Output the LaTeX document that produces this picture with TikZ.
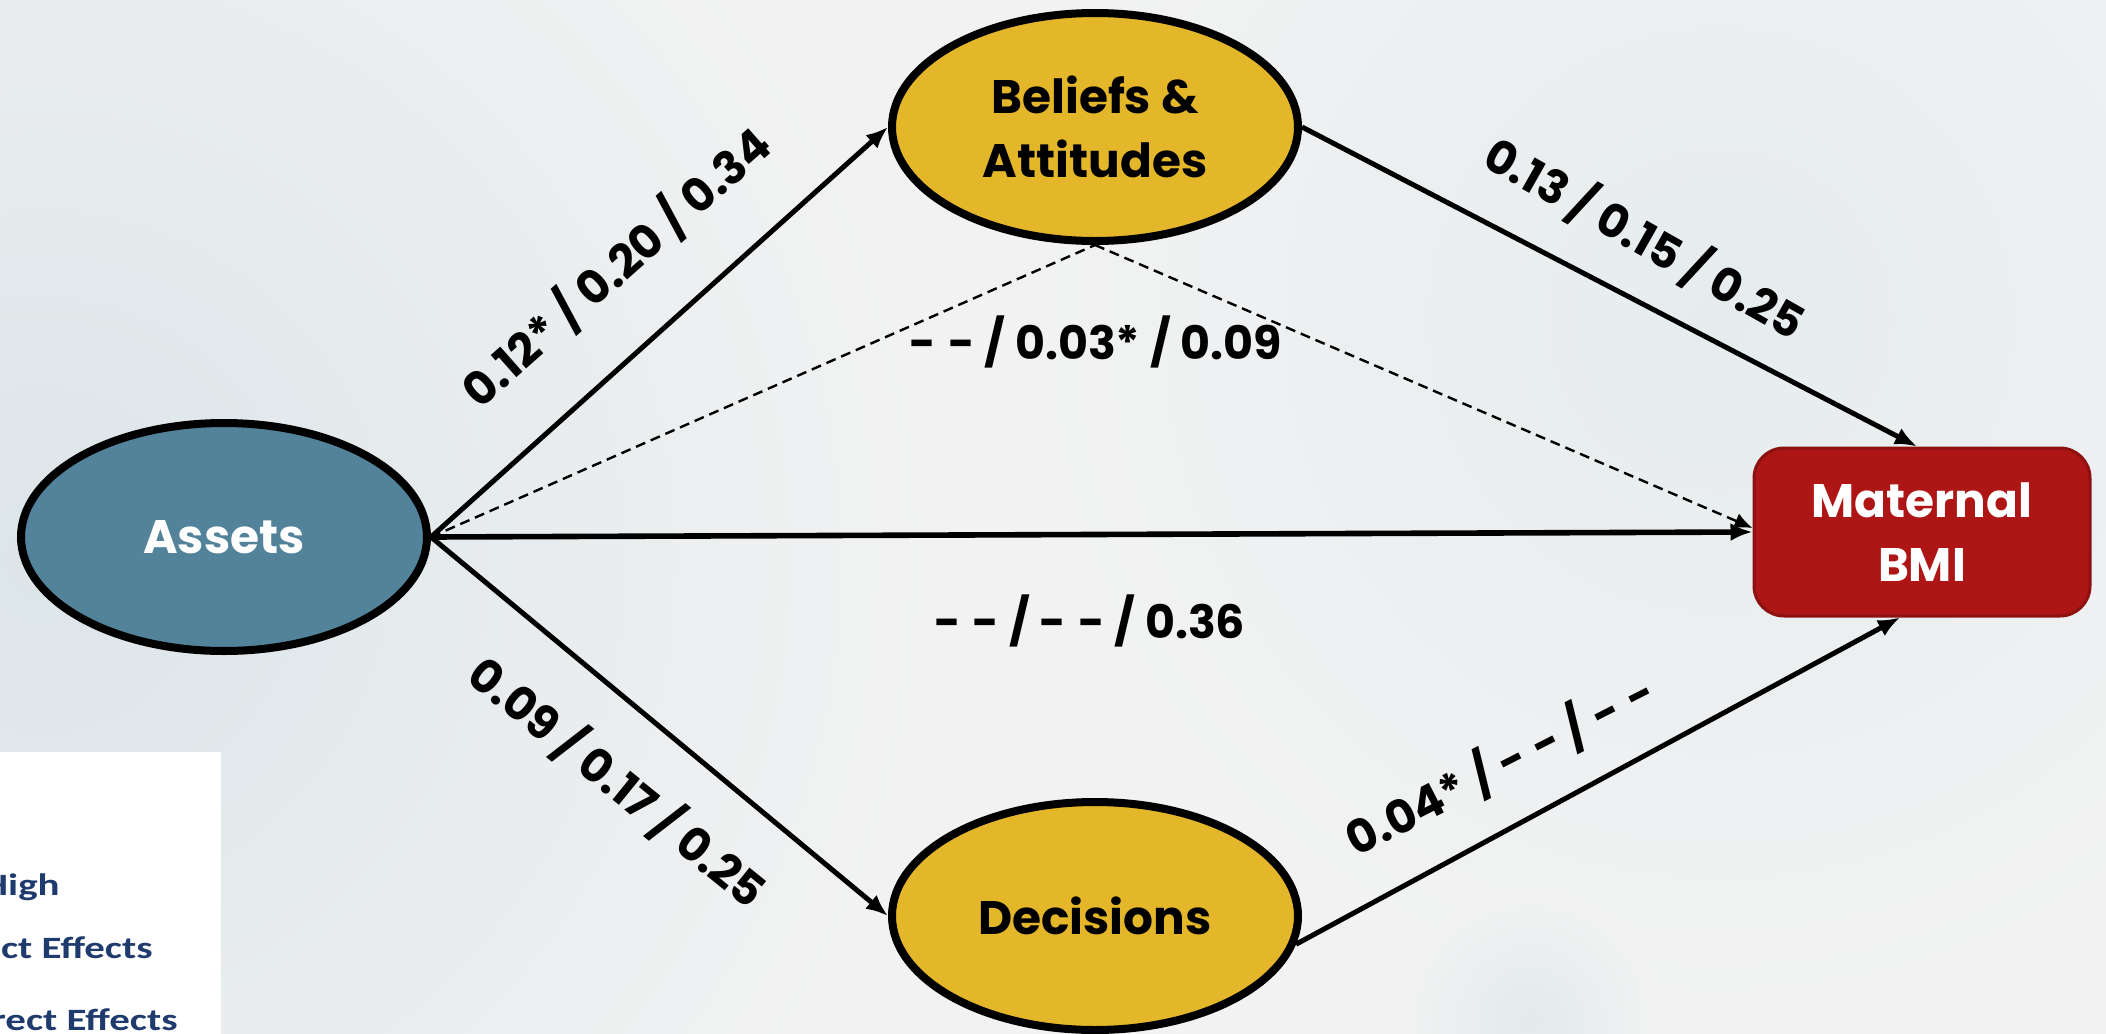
\documentclass[tikz,border=0pt]{standalone}
\usepackage{fontspec}
\setmainfont{Poppins}
\newfontfamily\legfont{Carlito}
\usetikzlibrary{arrows.meta,shapes.geometric}
\definecolor{bg}{HTML}{F2F2F2}
\definecolor{glow}{HTML}{DCE5E9}
\definecolor{glowb}{HTML}{E2EAEC}
\definecolor{glowr}{HTML}{E6ECEE}
\definecolor{assetc}{HTML}{53839A}
\definecolor{goldc}{HTML}{E4B62A}
\definecolor{redc}{HTML}{AE1515}
\definecolor{redb}{HTML}{8C1212}
\definecolor{legc}{HTML}{1F3B6E}
\tikzset{
  ellnode/.style={ellipse, draw=black, line width=4pt, minimum width=203pt, minimum height=114pt, inner sep=0pt, align=center, font=\fontsize{23.5}{32}\selectfont\bfseries},
  boxnode/.style={rectangle, rounded corners=15pt, draw=redb, line width=1.5pt, fill=redc, text=white, minimum width=168pt, minimum height=84pt, inner sep=0pt, align=center, font=\fontsize{23.5}{32}\selectfont\bfseries},
  lab/.style={inner sep=0pt, font=\fontsize{23}{28}\selectfont\bfseries},
  arr/.style={line width=2.5pt, -{Latex[length=11pt,width=9pt]}},
  dsh/.style={line width=1.2pt, dash pattern=on 5pt off 3pt},
  dsharr/.style={dsh, -{Latex[length=9pt,width=8pt]}},
  legtext/.style={inner sep=0pt, anchor=base east, text=legc, font=\legfont\fontsize{15.5}{18}\selectfont\bfseries}
}
\newcommand{\dd}{-\kern0.25em-}
\begin{document}
\begin{tikzpicture}[x=0.5pt,y=-0.5pt]
\clip (0,0) rectangle (2106,1034);
\fill[bg] (0,0) rectangle (2106,1034);
\shade[inner color=glow, outer color=bg] (40,560) circle (900);
\shade[inner color=glowr, outer color=bg] (1720,320) circle (700);
\shade[inner color=glowb, outer color=bg] (1530,1020) circle (130);
% legend box (clipped)
\fill[white] (-10,752) rectangle (221,1044);
\node[legtext] (l1) at (60,895) {\scalebox{1.32}[1]{High}};
\node[legtext] (l2) at (153,958) {\scalebox{1.32}[1]{ct Effects}};
\node[legtext] (l3) at (178,1030) {\scalebox{1.32}[1]{rect Effects}};
% nodes
\node[ellnode, fill=assetc, text=white] (as) at (224,537) {Assets};
\node[ellnode, fill=goldc] (bel) at (1095,127) {Beliefs \&\\Attitudes};
\node[ellnode, fill=goldc] (dec) at (1095,916) {Decisions};
\node[boxnode] (bmi) at (1922,532) {Maternal\\BMI};
% dashed indirect
\draw[dsh] (as.east) -- (bel.south);
\draw[dsharr] (bel.south) -- ([yshift=2pt]bmi.west);
% solid arrows
\draw[arr] (as.east) -- (bel.west);
\draw[arr] (as.east) -- (dec.west);
\draw[arr, line width=2.8pt] (as.east) -- (bmi.west);
\draw[arr] (bel.east) -- ([xshift=-2.5pt]bmi.north);
\draw[arr] (dec.-8) -- ([xshift=-11pt]bmi.south);
% labels
\node[lab, rotate=41.5] (t1) at (616,267) {0.12* / 0.20 / 0.34};
\node[lab, rotate=-29.5] (t2) at (1645,238) {0.13 / 0.15 / 0.25};
\node[lab] (t3) at (1096,342) {\dd{} / 0.03* / 0.09};
\node[lab] (t4) at (1090,621) {\dd{} / \dd{} / 0.36};
\node[lab, rotate=-39] (t5) at (618,782) {0.09 / 0.17 / 0.25};
\node[lab, rotate=27] (t6) at (1500,765) {0.04* / \dd{} / \dd};
\end{tikzpicture}
\end{document}
